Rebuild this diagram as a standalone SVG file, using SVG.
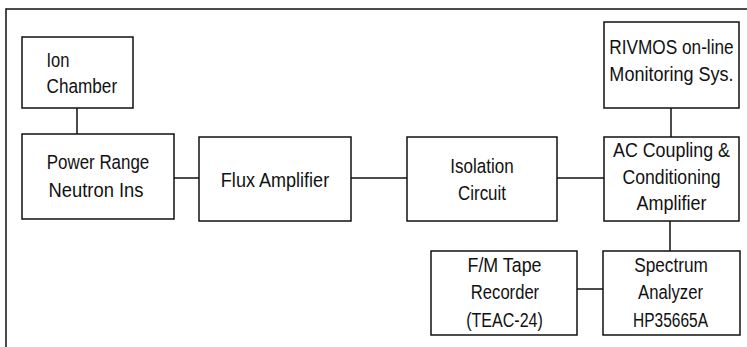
<svg xmlns="http://www.w3.org/2000/svg" width="747" height="347" viewBox="0 0 747 347">
<style>
.box{fill:#fff;stroke:#111;stroke-width:1.5}
.ln{fill:none;stroke:#111;stroke-width:1.5}
text{font-family:"Liberation Sans",Arial,sans-serif;font-size:20.5px;fill:#111}
.c{text-anchor:middle}
</style>
<rect width="747" height="347" fill="#fff"/>
<path class="ln" d="M6,347 V9 H747"/>
<g id="connectors">
<line class="ln" x1="77" y1="108" x2="77" y2="134"/>
<line class="ln" x1="174" y1="178" x2="199" y2="178"/>
<line class="ln" x1="351" y1="178" x2="407" y2="178"/>
<line class="ln" x1="557" y1="178" x2="604" y2="178"/>
<line class="ln" x1="671" y1="108" x2="671" y2="137"/>
<line class="ln" x1="670" y1="221" x2="670" y2="251"/>
<line class="ln" x1="577" y1="289" x2="603" y2="289"/>
</g>
<g id="ion-chamber">
<rect class="box" x="22" y="37" width="111" height="71"/>
<text x="46.5" y="66.7" textLength="23" lengthAdjust="spacingAndGlyphs">Ion</text>
<text x="46.5" y="93" textLength="70.6" lengthAdjust="spacingAndGlyphs">Chamber</text>
</g>
<g id="power-range">
<rect class="box" x="22" y="134" width="152" height="85"/>
<text class="c" x="98" y="169.3" textLength="102.6" lengthAdjust="spacingAndGlyphs">Power Range</text>
<text class="c" x="96" y="196.5" textLength="95" lengthAdjust="spacingAndGlyphs">Neutron Ins</text>
</g>
<g id="flux-amplifier">
<rect class="box" x="199" y="137" width="152" height="84"/>
<text class="c" x="275" y="186.7" textLength="108.3" lengthAdjust="spacingAndGlyphs">Flux Amplifier</text>
</g>
<g id="isolation-circuit">
<rect class="box" x="407" y="137" width="150" height="84"/>
<text class="c" x="482" y="173.3" textLength="63.3" lengthAdjust="spacingAndGlyphs">Isolation</text>
<text class="c" x="482" y="200" textLength="48" lengthAdjust="spacingAndGlyphs">Circuit</text>
</g>
<g id="rivmos">
<rect class="box" x="604" y="22" width="135" height="86"/>
<text class="c" transform="translate(671.5,54.3) scale(0.84,1)">RIVMOS on-line</text>
<text class="c" transform="translate(671.5,80.5) scale(0.88,1)">Monitoring Sys.</text>
</g>
<g id="ac-coupling">
<rect class="box" x="604" y="137" width="135" height="84"/>
<text class="c" x="671.5" y="157" textLength="117" lengthAdjust="spacingAndGlyphs">AC Coupling &amp;</text>
<text class="c" x="671.5" y="183.5" textLength="98" lengthAdjust="spacingAndGlyphs">Conditioning</text>
<text class="c" x="671.5" y="210" textLength="70" lengthAdjust="spacingAndGlyphs">Amplifier</text>
</g>
<g id="tape-recorder">
<rect class="box" x="431" y="251" width="146" height="84"/>
<text class="c" x="504.5" y="271.7" textLength="74" lengthAdjust="spacingAndGlyphs">F/M Tape</text>
<text class="c" x="505" y="299" textLength="68.3" lengthAdjust="spacingAndGlyphs">Recorder</text>
<text class="c" x="504.5" y="326.7" textLength="76.7" lengthAdjust="spacingAndGlyphs">(TEAC-24)</text>
</g>
<g id="spectrum-analyzer">
<rect class="box" x="603" y="251" width="137" height="84"/>
<text class="c" x="671" y="271.7" textLength="73.7" lengthAdjust="spacingAndGlyphs">Spectrum</text>
<text class="c" x="670.5" y="299" textLength="65" lengthAdjust="spacingAndGlyphs">Analyzer</text>
<text class="c" x="670.5" y="326.7" textLength="75" lengthAdjust="spacingAndGlyphs">HP35665A</text>
</g>
</svg>
